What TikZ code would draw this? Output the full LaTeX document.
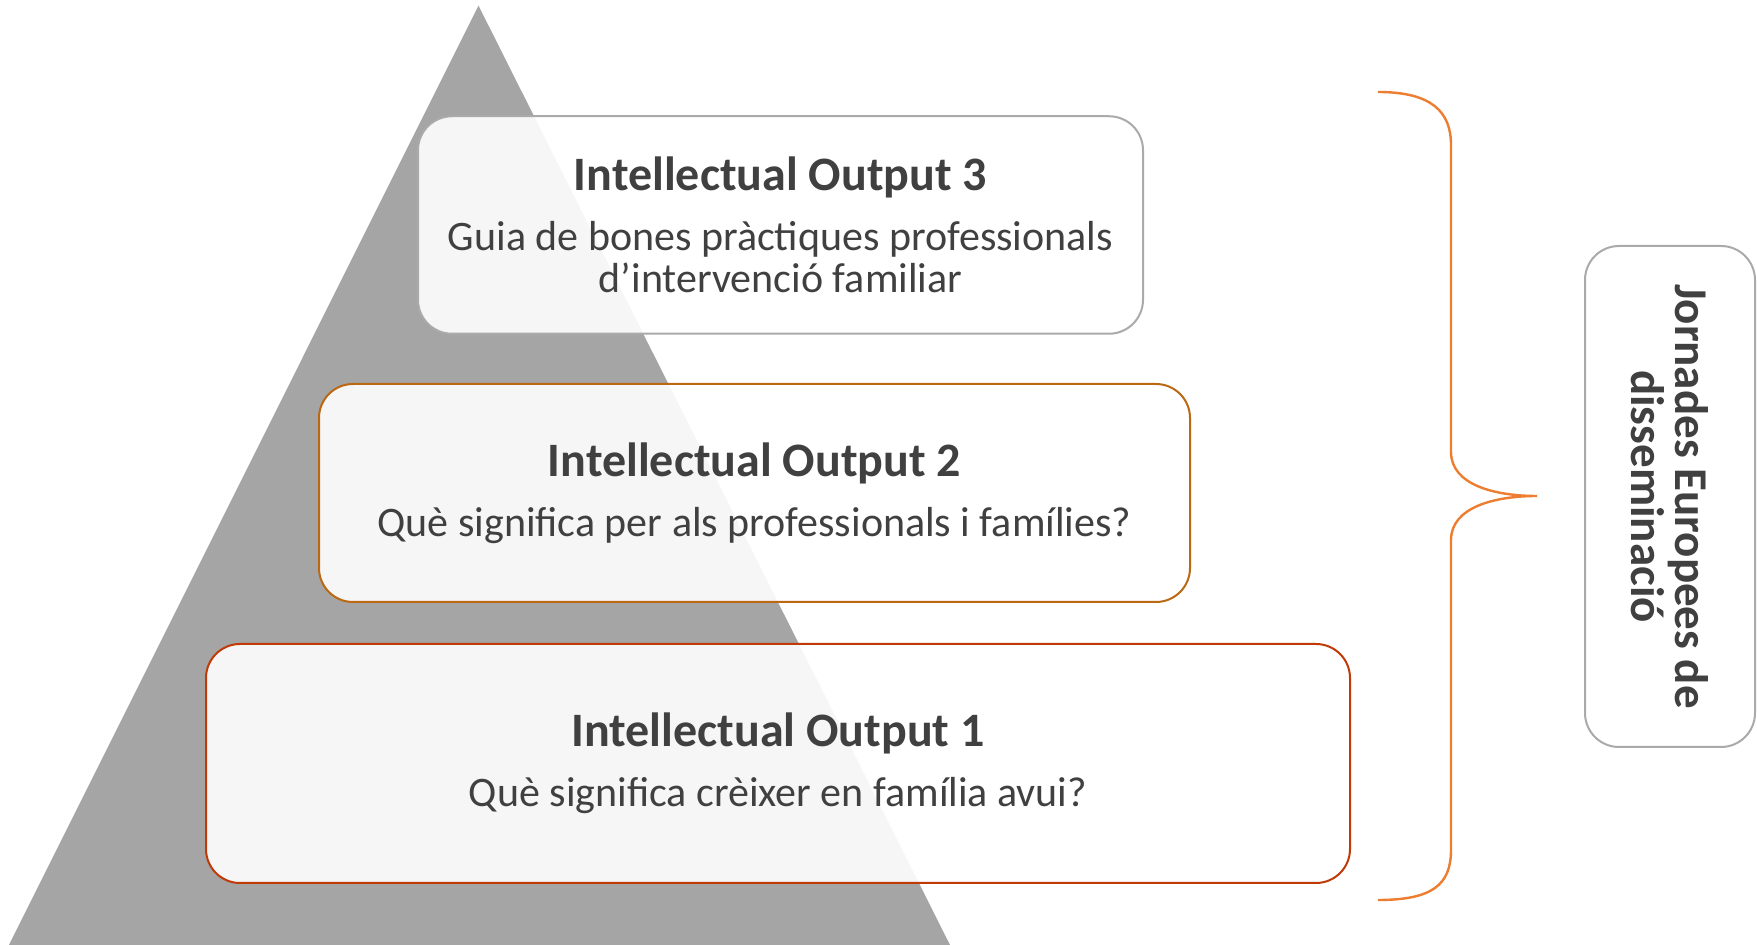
\documentclass[tikz,border=0pt]{standalone}
\usepackage{fontspec}
\setmainfont{Carlito}
\usepackage{tikz}

\tikzset{
  outbox/.style={rounded corners=17pt,fill=white,fill opacity=0.9,text opacity=1,
    line width=1pt,align=center,inner sep=0pt,text=textColor,
    font=\fontsize{21}{21}\selectfont}
}
\newcommand{\iotitle}[1]{{\fontsize{24}{24}\selectfont\bfseries #1}\\[9pt]}

\begin{document}
\begin{tikzpicture}[x=0.5pt,y=-0.5pt]
\definecolor{fillColor}{RGB}{255,255,255}
\definecolor{triColor}{RGB}{165,165,165}
\definecolor{textColor}{RGB}{64,64,64}
\definecolor{greyLine}{RGB}{170,170,170}
\definecolor{amberLine}{RGB}{187,104,18}
\definecolor{rustLine}{RGB}{192,58,8}
\definecolor{braceColor}{RGB}{237,125,49}
\path[use as bounding box,fill=fillColor] (0,0) rectangle (1757,945);

% pyramid
\path[fill=triColor] (9,945) -- (478.5,5.6) -- (950,945) -- cycle;

% outputs
\node[outbox,draw=greyLine,minimum width=362.5pt,minimum height=108.75pt] (io3) at (780.5,225)
  {\iotitle{Intellectual Output 3}Guia de bones pràctiques professionals\\ d’intervenció familiar};
\node[outbox,draw=amberLine,minimum width=435.5pt,minimum height=109pt] (io2) at (754.5,493)
  {\iotitle{Intellectual Output 2}Què significa per als professionals i famílies?};
\node[outbox,draw=rustLine,minimum width=572pt,minimum height=119.5pt] (io1) at (778,763.5)
  {\iotitle{Intellectual Output 1}Què significa crèixer en família avui?};

% brace
\draw[braceColor,line width=1.2pt] (1378,92) .. controls (1432,92) and (1451,112) .. (1451,145)
  -- (1451,452) .. controls (1451,485) and (1495,496) .. (1537,496)
  .. controls (1495,496) and (1451,507) .. (1451,540)
  -- (1451,850) .. controls (1451,885) and (1432,900) .. (1378,900);

\node[outbox,draw=greyLine,fill opacity=1,rotate=-90,minimum width=250.5pt,minimum height=85pt,
  font=\fontsize{23.5}{22}\selectfont\bfseries] (jornades) at (1670,496.5)
  {Jornades Europees de\\ disseminació};
\end{tikzpicture}
\end{document}
